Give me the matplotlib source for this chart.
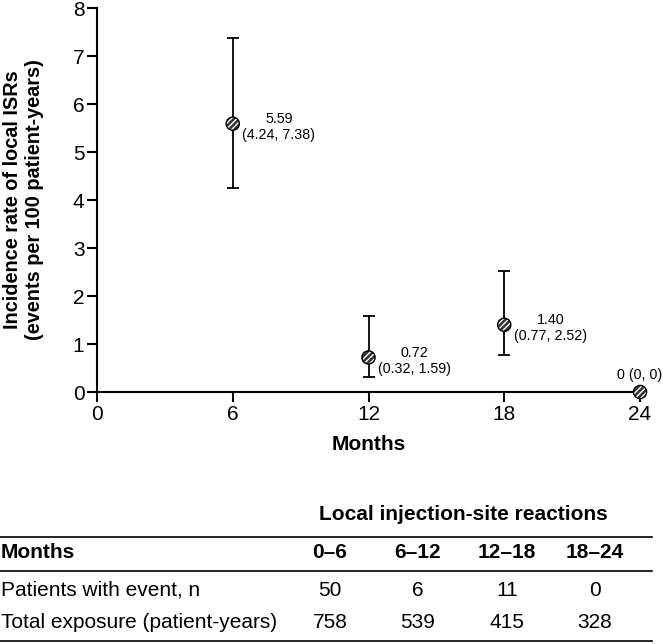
import numpy as np
import matplotlib
matplotlib.use('Agg')
import matplotlib.pyplot as plt
from matplotlib.lines import Line2D

plt.rcParams['font.family'] = ['Liberation Sans', 'DejaVu Sans']
plt.rcParams['hatch.linewidth'] = 1.0

# datos del grafico
meses = [6, 12, 18, 24]
tasa = [5.59, 0.72, 1.40, 0.0]
ic_bajo = [4.24, 0.32, 0.77, 0.0]
ic_alto = [7.38, 1.59, 2.52, 0.0]
etiquetas = ['5.59\n(4.24, 7.38)', '0.72\n(0.32, 1.59)', '1.40\n(0.77, 2.52)', '0 (0, 0)']

# datos de la tabla
titulo_tabla = 'Local injection-site reactions'
encabezado = ['Months', '0\u20136', '6\u201312', '12\u201318', '18\u201324']
filas = ['Patients with event, n', 'Total exposure (patient-years)']
pacientes = [50, 6, 11, 0]
exposicion = [758, 539, 415, 328]

W, H = 663, 644
fig = plt.figure(figsize=(W / 100, H / 100), dpi=100)
ax = fig.add_axes([97 / W, 1 - 392 / H, (640 - 97) / W, (392 - 8) / H])

tasa = np.array(tasa)
err = np.array([tasa - np.array(ic_bajo), np.array(ic_alto) - tasa])
ax.errorbar(meses, tasa, yerr=err, fmt='none', ecolor='black', elinewidth=1.3,
            capsize=4.5, capthick=1.3, zorder=3, clip_on=False)
# marcador rayado
ax.scatter(meses, tasa, s=90, marker='o', facecolor='#333333', edgecolor='white',
           hatch='//////', linewidth=0, zorder=4, clip_on=False)
ax.scatter(meses, tasa, s=90, marker='o', facecolor='none', edgecolor='black',
           linewidth=1.0, zorder=5, clip_on=False)

for x, y, t in zip(meses, tasa, etiquetas):
    if y == 0:
        ax.annotate(t, (x, y), xytext=(0, 7), textcoords='offset points',
                    ha='center', va='bottom', fontsize=10.3)
    else:
        ax.annotate(t, (x, y), xytext=(7, -2.5), textcoords='offset points',
                    ha='left', va='center', multialignment='center', fontsize=10.3)

ax.set_xlim(0, 24)
ax.set_ylim(0, 8)
ax.set_xticks([0, 6, 12, 18, 24])
ax.set_yticks(range(0, 9))
ax.spines['top'].set_visible(False)
ax.spines['right'].set_visible(False)
for s in ['left', 'bottom']:
    ax.spines[s].set_linewidth(1.5)
ax.tick_params(direction='out', length=7, width=1.5, labelsize=15, pad=2)
ax.set_xlabel('Months', fontsize=15, fontweight='bold', labelpad=8)
ax.set_ylabel('Incidence rate of local ISRs\n(events per 100 patient-years)',
              fontsize=14.3, fontweight='bold', linespacing=1.2)
ax.yaxis.set_label_coords(-0.098, 0.5)

# tabla
col_x = [330, 418, 507, 595]
def fx(px):
    return px / W
def fy(py):
    return 1 - py / H

tam = 15
fig.text(fx(463), fy(515), titulo_tabla, ha='center', va='center', fontsize=tam, fontweight='bold')
for yl in [537, 571, 641]:
    fig.add_artist(Line2D([0, fx(652)], [fy(yl), fy(yl)], color='black', linewidth=1.2,
                          transform=fig.transFigure))
fig.text(fx(1), fy(553), encabezado[0], ha='left', va='center', fontsize=tam, fontweight='bold')
for cx, h in zip(col_x, encabezado[1:]):
    fig.text(fx(cx), fy(553), h, ha='center', va='center', fontsize=tam, fontweight='bold')
for yy, nombre, vals in zip([590, 622], filas, [pacientes, exposicion]):
    fig.text(fx(1), fy(yy), nombre, ha='left', va='center', fontsize=tam)
    for cx, v in zip(col_x, vals):
        fig.text(fx(cx), fy(yy), str(v), ha='center', va='center', fontsize=tam)

plt.savefig('out.png', dpi=100)
